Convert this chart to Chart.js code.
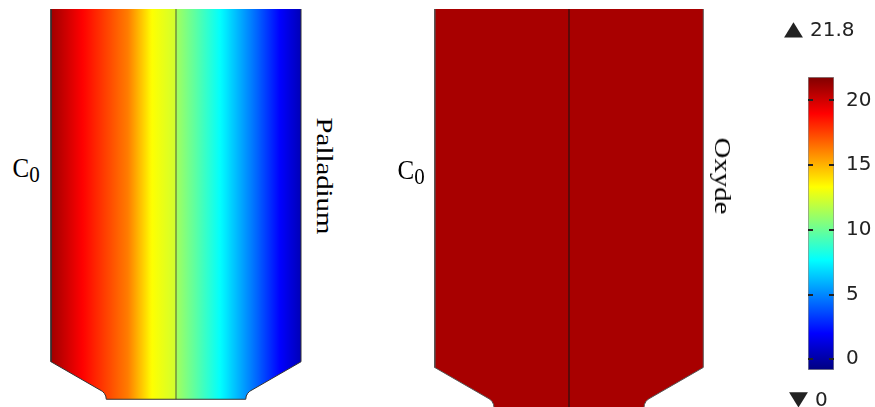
<!DOCTYPE html>
<html>
<head>
<meta charset="utf-8">
<script src="https://cdn.jsdelivr.net/npm/chart.js@4.4.1/dist/chart.umd.min.js"></script>
<style>
  body { margin: 0; background: #fff; width: 875px; height: 407px; overflow: hidden; position: relative; font-family: 'Liberation Serif', 'Times New Roman', serif; }
  canvas { position: absolute; }
  #left-panel { left: 41px; top: 9px; }
  #right-panel { left: 424px; top: 9px; }
  #colorbar { left: 800px; top: 0; }
  .lbl { position: absolute; color: #000; white-space: nowrap; font-family: 'Liberation Serif', serif; }
  .conc { font-size: 25px; line-height: 25px; transform-origin: 0 21px; transform: scaleY(1.08); }
  .conc span { position: relative; top: 5px; font-size: 21px; }
  .side { font-size: 24px; line-height: 24px; transform: translate(-50%, -50%) rotate(90deg) scaleX(1.2); }
  .cb { position: absolute; font-family: 'DejaVu Sans', sans-serif; font-size: 20px; line-height: 20px; color: #222; white-space: nowrap; }
  .tri { transform-origin: 0 17px; transform: scale(1.3, 1.05); font-size: 19px; }
</style>
</head>
<body>
<canvas id="left-panel" width="270" height="398"></canvas>
<canvas id="right-panel" width="290" height="398"></canvas>
<canvas id="colorbar" width="75" height="407"></canvas>

<div class="lbl conc" style="left:12.5px; top:156px;">C<span>0</span></div>
<div class="lbl side" style="left:325px; top:176px;">Palladium</div>
<div class="lbl conc" style="left:397.5px; top:158px;">C<span>0</span></div>
<div class="lbl side" style="left:723px; top:176px;">Oxyde</div>

<div class="cb tri" style="left:784px; top:18px;">▲</div>
<div class="cb" id="max-label" style="left:810px; top:19px;"></div>
<div class="cb tri" style="left:789px; top:388px;">▼</div>
<div class="cb" id="min-label" style="left:815px; top:388.5px;"></div>

<script>
// cross-section of the sample, model units, x = 0 on the interface
const outlineX = [-5, -5, -2.95, -2.87, -2.81, -2.79, 2.79, 2.81, 2.87, 2.95, 5, 5, -5];
const outlineY = [17, 1.5, 0.32, 0.24, 0.13, 0, 0, 0.13, 0.24, 0.32, 1.5, 17, 17];
const interfaceX = [0, 0];
const interfaceY = [0, 17];

// concentration across the width
const profileX = [-5, -3.76, -1.92, -0.96, -0.04, 0.04, 1.76, 2.96, 4.16, 5];
const palladiumC = [21.1, 19.0, 16.2, 13.3, 12.3, 11.2, 7.7, 4.9, 2.0, 0.4];
const oxydeX = [-5, 5];
const oxydeC = [20.9, 20.9];

const colorRange = [-0.83, 21.8];
const colorTicks = [0, 5, 10, 15, 20];
const maxValue = '21.8';
const minValue = '0';

function jet(v) {
    const t = Math.min(1, Math.max(0, (v - colorRange[0]) / (colorRange[1] - colorRange[0])));
    const ch = k => Math.round(255 * Math.min(1, Math.max(0, 1.5 - Math.abs(4 * t - k))));
    return `rgb(${ch(3)},${ch(2)},${ch(1)})`;
}

function profileGradient(chart, xs, vs) {
    const { ctx, chartArea, scales } = chart;
    if (!chartArea) return 'transparent';
    const x0 = scales.x.getPixelForValue(xs[0]);
    const x1 = scales.x.getPixelForValue(xs[xs.length - 1]);
    const g = ctx.createLinearGradient(x0, 0, x1, 0);
    for (let i = 0; i < xs.length - 1; i++) {
        for (let s = 0; s <= 10; s++) {
            const f = s / 10;
            const x = xs[i] + (xs[i + 1] - xs[i]) * f;
            const v = vs[i] + (vs[i + 1] - vs[i]) * f;
            g.addColorStop((scales.x.getPixelForValue(x) - x0) / (x1 - x0), jet(v));
        }
    }
    return g;
}

function barGradient(chart) {
    const { ctx, chartArea, scales } = chart;
    if (!chartArea) return 'transparent';
    const y0 = scales.y.getPixelForValue(colorRange[0]);
    const y1 = scales.y.getPixelForValue(colorRange[1]);
    const g = ctx.createLinearGradient(0, y0, 0, y1);
    for (let i = 0; i <= 40; i++) {
        g.addColorStop(i / 40, jet(colorRange[0] + (colorRange[1] - colorRange[0]) * i / 40));
    }
    return g;
}

function points(xs, ys) {
    return xs.map((x, i) => ({ x: x, y: ys[i] }));
}

function makePanel(id, xs, vs, yMin, yMax, lineColor, edgeColor) {
    return new Chart(document.getElementById(id), {
        type: 'scatter',
        data: {
            datasets: [{
                data: points(interfaceX, interfaceY),
                showLine: true,
                borderColor: lineColor,
                borderWidth: 1,
                pointRadius: 0,
                fill: false
            }, {
                data: points(outlineX, outlineY),
                showLine: true,
                fill: 'shape',
                backgroundColor: c => profileGradient(c.chart, xs, vs),
                borderColor: edgeColor,
                borderWidth: 1,
                pointRadius: 0,
                tension: 0
            }]
        },
        options: {
            responsive: false,
            animation: false,
            events: [],
            layout: { padding: 0 },
            plugins: { legend: { display: false }, tooltip: { enabled: false } },
            scales: {
                x: { type: 'linear', display: false, min: -5.4, max: 5.4 },
                y: { type: 'linear', display: false, min: yMin, max: yMax }
            }
        }
    });
}

makePanel('left-panel', profileX, palladiumC, -0.31, 15.61, 'rgba(50,50,50,0.8)', '#333');
makePanel('right-panel', oxydeX, oxydeC, 0.03, 14.83, '#111', '#555');

const tickMarks = {
    id: 'tickMarks',
    afterDatasetsDraw(chart) {
        const { ctx, chartArea, scales } = chart;
        ctx.save();
        ctx.strokeStyle = '#222';
        ctx.lineWidth = 2;
        colorTicks.forEach(v => {
            const py = Math.round(scales.y.getPixelForValue(v));
            ctx.beginPath();
            ctx.moveTo(chartArea.left, py);
            ctx.lineTo(chartArea.left + 5, py);
            ctx.moveTo(chartArea.right - 5, py);
            ctx.lineTo(chartArea.right, py);
            ctx.stroke();
        });
        ctx.restore();
    }
};

new Chart(document.getElementById('colorbar'), {
    type: 'bar',
    data: {
        labels: ['c'],
        datasets: [{
            data: [colorRange],
            backgroundColor: c => barGradient(c.chart),
            borderColor: '#8c8c8c',
            borderWidth: 1,
            borderSkipped: false,
            barPercentage: 1,
            categoryPercentage: 1
        }]
    },
    options: {
        responsive: false,
        animation: false,
        events: [],
        layout: { padding: { left: 8, top: 77, bottom: 37, right: 0 } },
        plugins: { legend: { display: false }, tooltip: { enabled: false } },
        scales: {
            x: { display: false },
            y: {
                position: 'right',
                min: colorRange[0],
                max: colorRange[1],
                grid: { display: false, drawTicks: false },
                border: { display: false },
                afterBuildTicks: s => { s.ticks = colorTicks.map(v => ({ value: v })); },
                afterFit: s => { s.width = 41; },
                ticks: { color: '#222', padding: 12, font: { family: 'DejaVu Sans', size: 20 } }
            }
        }
    },
    plugins: [tickMarks]
});

document.getElementById('max-label').textContent = maxValue;
document.getElementById('min-label').textContent = minValue;
</script>
</body>
</html>
